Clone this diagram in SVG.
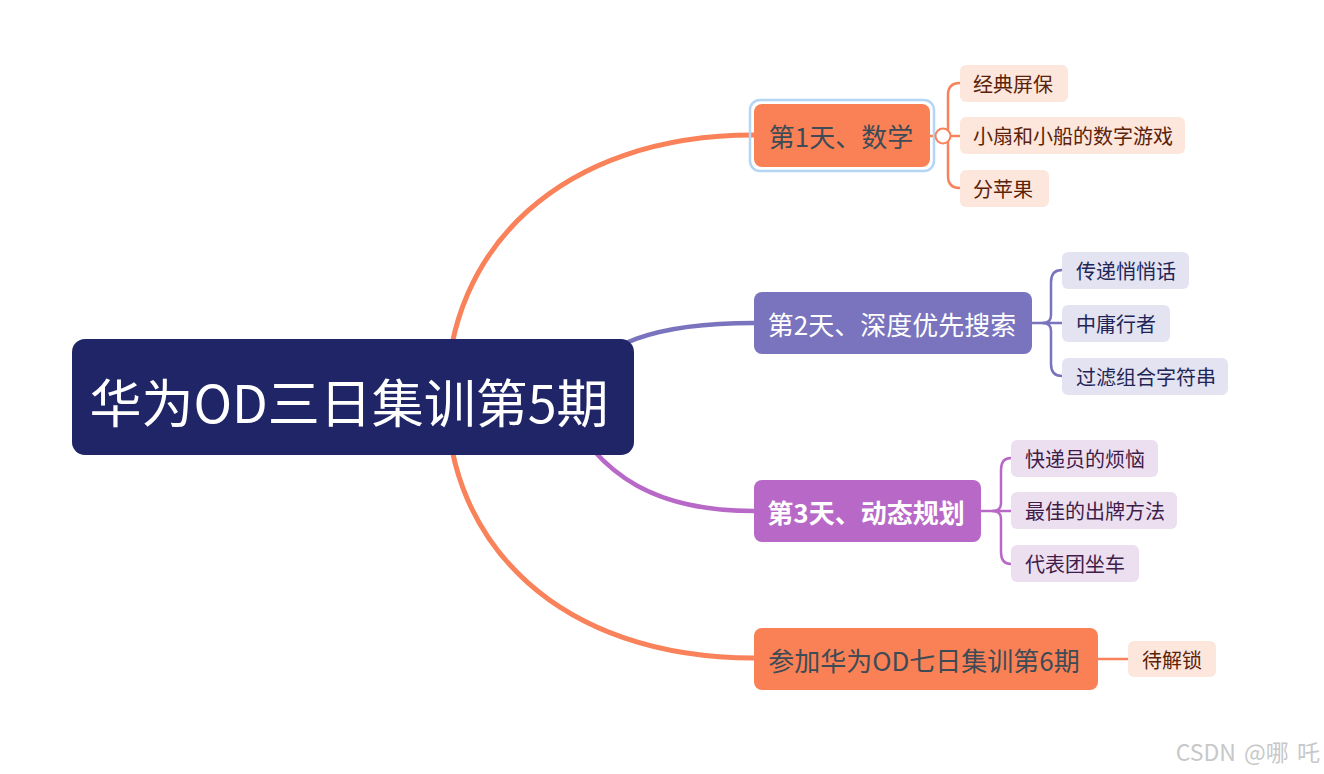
<svg xmlns="http://www.w3.org/2000/svg" width="1324" height="774" viewBox="0 0 1324 774">
<style>
text{font-family:"Noto Sans CJK SC","Microsoft YaHei","Liberation Sans",sans-serif;dominant-baseline:central}
.main{font-size:26px;text-anchor:middle}
.sub{font-size:20px}
.conn{fill:none;stroke-linecap:round}
.o{stroke:#f9825a}
.p2{stroke:#7974bd}
.p3{stroke:#b868c7}
.c1 rect{fill:#fde6dc}.c1 text{fill:#5a2208}
.c2 rect{fill:#e4e3f1}.c2 text{fill:#1f2657}
.c3 rect{fill:#ecdff0}.c3 text{fill:#3f1c4a}
</style>
<rect width="1324" height="774" fill="#ffffff"/>
<g id="connectors">
<path class="conn o" stroke-width="5" d="M447,397 C447,250 560,135 754,135"/>
<path class="conn p2" stroke-width="4.5" d="M560,397 C600,340 660,323 754,323"/>
<path class="conn p3" stroke-width="4.5" d="M560,400 C600,480 660,511 754,511"/>
<path class="conn o" stroke-width="5" d="M447,397 C447,544 560,658 754,658"/>
<g class="conn o" stroke-width="2.5">
<path d="M930,136 H960"/>
<path d="M943,136 Q948,136 948,128 V95 Q948,83 960,83"/>
<path d="M943,136 Q948,136 948,144 V176 Q948,188 960,188"/>
</g>
<g class="conn p2" stroke-width="2.5">
<path d="M1032,323 H1062"/>
<path d="M1043,323 Q1051,323 1051,315 V282 Q1051,270 1062,270"/>
<path d="M1043,323 Q1051,323 1051,331 V364 Q1051,376 1062,376"/>
</g>
<g class="conn p3" stroke-width="2.5">
<path d="M981,511 H1011"/>
<path d="M993,511 Q1001,511 1001,503 V470 Q1001,458 1011,458"/>
<path d="M993,511 Q1001,511 1001,519 V552 Q1001,564 1011,564"/>
</g>
<path class="conn o" stroke-width="2.5" d="M1098,659 H1128"/>
</g>
<g id="root">
<rect x="72" y="339" width="562" height="116" rx="13" fill="#1f2566"/>
<text x="349" y="400" font-size="52" fill="#ffffff" text-anchor="middle">华为OD三日集训第5期</text>
</g>
<g id="day1">
<rect x="750" y="100" width="184" height="71" rx="10" fill="none" stroke="#b5d5f5" stroke-width="2.5"/>
<rect x="754" y="104" width="176" height="63" rx="8" fill="#fa8155"/>
<text class="main" x="841" y="135" fill="#3d4b56">第1天、数学</text>
<circle cx="943" cy="136" r="7.5" fill="#ffffff" stroke="#f9825a" stroke-width="2"/>
</g>
<g id="day1-c1" class="c1"><rect x="960" y="65" width="108" height="37" rx="6"/><text class="sub" x="973" y="83.5">经典屏保</text></g>
<g id="day1-c2" class="c1"><rect x="960" y="117" width="225" height="37" rx="6"/><text class="sub" x="973" y="135.5">小扇和小船的数字游戏</text></g>
<g id="day1-c3" class="c1"><rect x="960" y="170" width="89" height="37" rx="6"/><text class="sub" x="973" y="188.5">分苹果</text></g>
<g id="day2">
<rect x="754" y="292" width="278" height="62" rx="8" fill="#7974bd"/>
<text class="main" x="892" y="323" fill="#ffffff">第2天、深度优先搜索</text>
</g>
<g id="day2-c1" class="c2"><rect x="1062" y="252" width="127" height="37" rx="6"/><text class="sub" x="1076" y="270.5">传递悄悄话</text></g>
<g id="day2-c2" class="c2"><rect x="1062" y="305" width="108" height="37" rx="6"/><text class="sub" x="1076" y="323.5">中庸行者</text></g>
<g id="day2-c3" class="c2"><rect x="1062" y="358" width="166" height="37" rx="6"/><text class="sub" x="1076" y="376.5">过滤组合字符串</text></g>
<g id="day3">
<rect x="754" y="480" width="227" height="62" rx="8" fill="#b868c7"/>
<text class="main" x="866" y="511" fill="#ffffff" font-weight="bold">第3天、动态规划</text>
</g>
<g id="day3-c1" class="c3"><rect x="1011" y="440" width="147" height="37" rx="6"/><text class="sub" x="1025" y="458.5">快递员的烦恼</text></g>
<g id="day3-c2" class="c3"><rect x="1011" y="492" width="166" height="37" rx="6"/><text class="sub" x="1025" y="510.5">最佳的出牌方法</text></g>
<g id="day3-c3" class="c3"><rect x="1011" y="545" width="128" height="37" rx="6"/><text class="sub" x="1025" y="563.5">代表团坐车</text></g>
<g id="day4">
<rect x="754" y="628" width="344" height="62" rx="8" fill="#fa8155"/>
<text class="main" x="924" y="659" fill="#3d4b56">参加华为OD七日集训第6期</text>
</g>
<g id="day4-c1" class="c1"><rect x="1128" y="641" width="88" height="36" rx="6"/><text class="sub" x="1142" y="659">待解锁</text></g>
<text x="1320" y="751" font-size="23" fill="#c8c8c8" text-anchor="end" word-spacing="3" font-family="'Liberation Sans','Noto Sans CJK SC',sans-serif">CSDN @哪 吒</text>
</svg>
